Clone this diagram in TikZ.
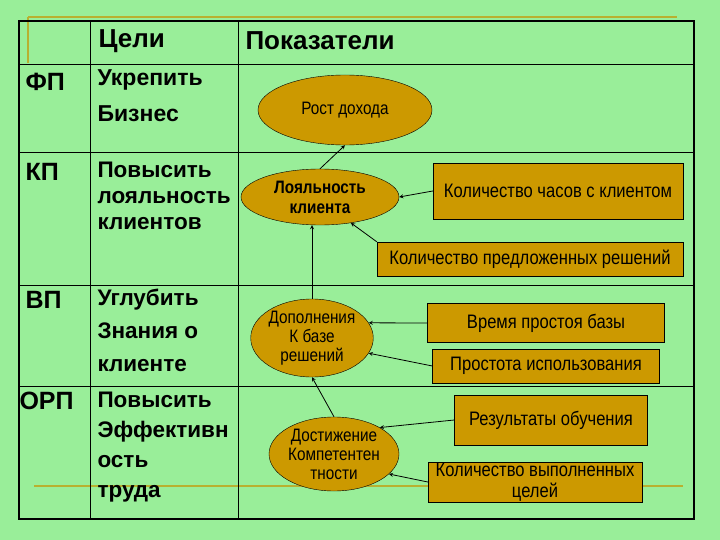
\documentclass[tikz,border=0pt]{standalone}
\usepackage{fontspec}
\setmainfont{Liberation Sans}
\newfontfamily\narrow[FakeStretch=0.85]{Liberation Sans}
\usetikzlibrary{shapes.geometric}
\definecolor{bg}{HTML}{99EE99}
\definecolor{gold}{HTML}{CC9900}
\definecolor{olive}{HTML}{B8B030}
\tikzset{
 ell/.style={ellipse,draw=black,fill=gold,inner sep=0pt,align=center,font=\narrow\fontsize{18}{19}\selectfont},
 bx/.style={draw=black,fill=gold,inner sep=0pt,align=center,font=\narrow\fontsize{19.5}{21}\selectfont},
 arr/.style={->,>=stealth,thick},
 lbl/.style={anchor=north west,align=left,font=\bfseries\fontsize{25}{34}\selectfont},
}
\begin{document}
\begin{tikzpicture}[x=1pt,y=-1pt]
\fill[bg] (0,0) rectangle (720,540);
\useasboundingbox (0,0) rectangle (720,540);
% olive decoration
\draw[olive,line width=2pt] (28,17) -- (677,17);
\draw[olive,line width=2pt] (28,17) -- (28,63);
\draw[olive,line width=2pt] (34,486) -- (683,486);
% table
\draw[line width=1.5pt] (19,21) rectangle (694,519);
\draw[thick] (90,21) -- (90,519) (238,21) -- (238,519);
\draw[thick] (19,64) -- (694,64) (19,152) -- (694,152) (19,285) -- (694,285) (19,386) -- (694,386);
% header
\node[anchor=west,font=\bfseries\fontsize{26}{28}\selectfont] (h1) at (95,41) {Цели};
\node[anchor=west,font=\bfseries\fontsize{26}{28}\selectfont] (h2) at (242,41) {Показатели};
\node[lbl] (r1) at (22,70) {ФП};
\node[lbl] (r2) at (22,160) {КП};
\node[lbl] (r3) at (22,288) {ВП};
\node[lbl] (r4) at (16,389) {ОРП};
\node[lbl,font=\bfseries\fontsize{23}{36}\selectfont] (g1) at (94,66) {Укрепить\\Бизнес};
\node[lbl,font=\bfseries\fontsize{22.5}{26}\selectfont] (g2) at (94,158) {Повысить\\лояльность\\клиентов};
\node[lbl,font=\bfseries\fontsize{22.5}{33}\selectfont] (g3) at (94,285) {Углубить\\Знания о\\клиенте};
\node[lbl,font=\bfseries\fontsize{22.5}{30}\selectfont] (g4) at (94,388) {Повысить\\Эффективн\\ость\\труда};
% ellipses
\node[ell,minimum width=174pt,minimum height=70pt] (e1) at (345,110) {Рост дохода};
\node[ell,minimum width=158pt,minimum height=56pt,font=\bfseries\narrow\fontsize{18}{20}\selectfont] (e2) at (320,197) {Лояльность\\клиента};
\node[ell,minimum width=118pt,minimum height=78pt] (e3) at (312,338) {Дополнения\\К базе\\решений};
\node[ell,minimum width=130pt,minimum height=74pt] (e4) at (334,454) {Достижение\\Компетентен\\тности};
% boxes
\node[bx,minimum width=250pt,minimum height=56pt] (b1) at (558,191) {Количество часов с клиентом};
\node[bx,minimum width=306pt,minimum height=34pt] (b2) at (530,259) {Количество предложенных решений};
\node[bx,minimum width=237pt,minimum height=39pt] (b3) at (546,323) {Время простоя базы};
\node[bx,minimum width=227pt,minimum height=34pt] (b4) at (546,366) {Простота использования};
\node[bx,minimum width=193pt,minimum height=50pt] (b5) at (551,420) {Результаты обучения};
\node[bx,minimum width=214pt,minimum height=40pt] (b6) at (535,482) {Количество выполненных\\целей};
% arrows
\draw[arr] (e2.north) -- (e1.south);
\draw[arr] (b1.west) -- (e2.east);
\draw[arr] (b2.north west) -- (e2.-40);
\draw[arr] (e3.north) -- (e3.north |- e2.south);
\draw[arr] (b3.west) -- (e3.15);
\draw[arr] (b4.west) -- (e3.-15);
\draw[arr] (e4.north) -- (e3.south);
\draw[arr] (b5.west) -- (e4.30);
\draw[arr] (b6.west) -- (e4.-20);
\end{tikzpicture}
\end{document}
